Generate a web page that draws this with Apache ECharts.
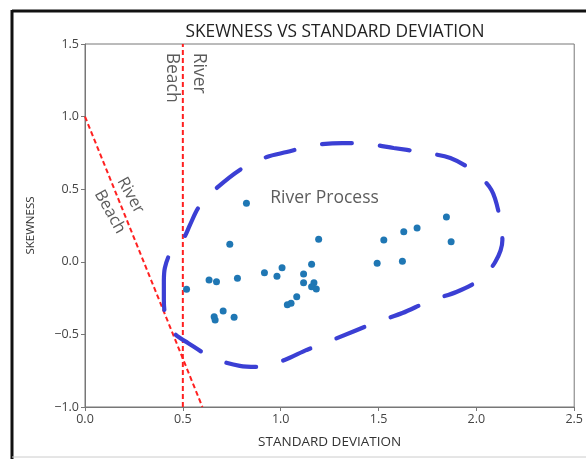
<!DOCTYPE html>
<html>
<head>
<meta charset="utf-8">
<script src="https://cdn.jsdelivr.net/npm/echarts@6/dist/echarts.min.js"></script>
<style>
  html, body { margin: 0; padding: 0; background: #fff; }
  #chart { width: 586px; height: 459px; }
</style>
</head>
<body>
<div id="chart"></div>
<script>
// Sample points: standard deviation vs skewness
const stdDev = [0.825, 0.740, 1.194, 0.519, 0.634, 0.672, 0.779, 0.917, 1.007, 0.981,
  1.158, 1.117, 1.117, 1.170, 1.158, 1.182, 1.082, 1.053, 1.034, 0.706,
  0.660, 0.665, 0.762, 1.847, 1.697, 1.629, 1.527, 1.871, 1.493, 1.622];
const skewness = [0.403, 0.121, 0.155, -0.189, -0.125, -0.137, -0.114, -0.075, -0.041, -0.100,
  -0.017, -0.084, -0.144, -0.144, -0.171, -0.187, -0.240, -0.286, -0.295, -0.339,
  -0.378, -0.401, -0.382, 0.309, 0.233, 0.207, 0.150, 0.138, -0.010, 0.003];

// Boundary lines separating river and beach sands
const verticalBoundary = [[0.5, -1.0], [0.5, 1.5]];
const slopedBoundary = [[0.0, 1.0], [0.6, -1.0]];

// Outline of the river-process field
const fieldX = [0.403, 0.403, 0.413, 0.454, 0.526, 0.653, 0.791, 0.893, 1.020, 1.133,
  1.276, 1.480, 1.622, 1.760, 1.898, 2.015, 2.097, 2.133, 2.117, 2.077,
  1.990, 1.867, 1.714, 1.577, 1.449, 1.316, 1.173, 1.031, 0.929, 0.806,
  0.673, 0.582, 0.536, 0.505, 0.434, 0.408, 0.403];
const fieldY = [-0.125, -0.263, -0.387, -0.490, -0.559, -0.662, -0.717, -0.724, -0.676, -0.607,
  -0.532, -0.421, -0.353, -0.270, -0.208, -0.125, 0.000, 0.150, 0.322, 0.495,
  0.619, 0.715, 0.756, 0.784, 0.811, 0.818, 0.804, 0.756, 0.722, 0.646,
  0.508, 0.377, 0.253, 0.164, 0.054, -0.043, -0.125];

const xTicks = [0.0, 0.5, 1.0, 1.5, 2.0, 2.5];
const yTicks = [-1.0, -0.5, 0.0, 0.5, 1.0, 1.5];

const fmt = v => v.toFixed(1).replace('-', '\u2212');
const FONT = '"Open Sans", "Noto Sans", sans-serif';

const points = stdDev.map((x, i) => [x, skewness[i]]);
const field = fieldX.map((x, i) => [x, fieldY[i]]);

const chart = echarts.init(document.getElementById('chart'), null, { renderer: 'canvas' });

// Annotation text anchored at a data position (left edge of the text block)
function textMark(x, y, text, rotate, size, lineHeight, align) {
  return {
    type: 'scatter',
    data: [[x, y]],
    symbolSize: 1,
    itemStyle: { color: 'rgba(0,0,0,0)' },
    silent: true,
    z: 5,
    label: {
      show: true,
      position: 'inside',
      formatter: text,
      rotate: rotate,
      color: '#333',
      fontFamily: FONT,
      fontSize: size,
      lineHeight: lineHeight,
      align: align,
      verticalAlign: 'middle'
    }
  };
}

chart.setOption({
  animation: false,
  backgroundColor: '#fff',
  title: {
    text: 'SKEWNESS VS STANDARD DEVIATION',
    left: 330, top: 19, textAlign: 'center',
    textStyle: { fontFamily: FONT, fontSize: 17.3, fontWeight: 'normal', color: '#222' }
  },
  grid: {
    left: 85, right: 11, top: 44, bottom: 52,
    show: true, borderColor: '#777', borderWidth: 1, backgroundColor: '#fff'
  },
  xAxis: {
    type: 'value', min: xTicks[0], max: xTicks[xTicks.length - 1], interval: 0.5,
    name: 'STANDARD DEVIATION', nameLocation: 'middle', nameGap: 28,
    nameTextStyle: { fontFamily: FONT, fontSize: 13.5, color: '#333' },
    axisLine: { show: true, onZero: false, lineStyle: { color: '#777', width: 1 } },
    axisTick: { show: true, inside: false, length: 4, lineStyle: { color: '#777' } },
    axisLabel: { formatter: fmt, fontFamily: FONT, fontSize: 12.5, color: '#444', margin: 6 },
    splitLine: { show: false }
  },
  yAxis: {
    type: 'value', min: yTicks[0], max: yTicks[yTicks.length - 1], interval: 0.5,
    name: 'SKEWNESS', nameLocation: 'middle', nameGap: 48, nameRotate: 90,
    nameTextStyle: { fontFamily: FONT, fontSize: 11.5, color: '#333' },
    axisLine: { show: true, onZero: false, lineStyle: { color: '#777', width: 1 } },
    axisTick: { show: true, inside: false, length: 4, lineStyle: { color: '#777' } },
    axisLabel: { formatter: fmt, fontFamily: FONT, fontSize: 12.5, color: '#444', margin: 6 },
    splitLine: { show: false }
  },
  graphic: [
    { type: 'line', shape: { x1: 12, y1: 11, x2: 586, y2: 11 }, style: { stroke: '#111', lineWidth: 3 } },
    { type: 'line', shape: { x1: 12, y1: 10, x2: 12, y2: 459 }, style: { stroke: '#111', lineWidth: 3 } },
    { type: 'line', shape: { x1: 12, y1: 457, x2: 586, y2: 457 }, style: { stroke: '#ccc', lineWidth: 1 } }
  ],
  series: [
    {
      type: 'line', data: verticalBoundary, symbol: 'none', silent: true, z: 2,
      lineStyle: { color: '#ff2020', width: 2, type: [5, 3] }
    },
    {
      type: 'line', data: slopedBoundary, symbol: 'none', silent: true, z: 2,
      lineStyle: { color: '#ff2020', width: 2, type: [5, 3] }
    },
    {
      type: 'line', data: field, symbol: 'none', silent: true, smooth: 0.3, z: 3,
      lineStyle: { color: '#3b3fd4', width: 4.2, type: [30, 28], cap: 'round' }
    },
    {
      type: 'scatter', data: points, symbolSize: 7, z: 4,
      itemStyle: { color: '#1f77b4', opacity: 1 }
    },
    textMark(0.515, 1.44, 'River\nBeach', -90, 17.5, 27, 'left'),
    textMark(0.127, 0.53, 'River\nBeach', -61, 16.5, 26, 'left'),
    textMark(1.224, 0.44, 'River Process', 0, 17.5, 20, 'center')
  ]
});
</script>
</body>
</html>
